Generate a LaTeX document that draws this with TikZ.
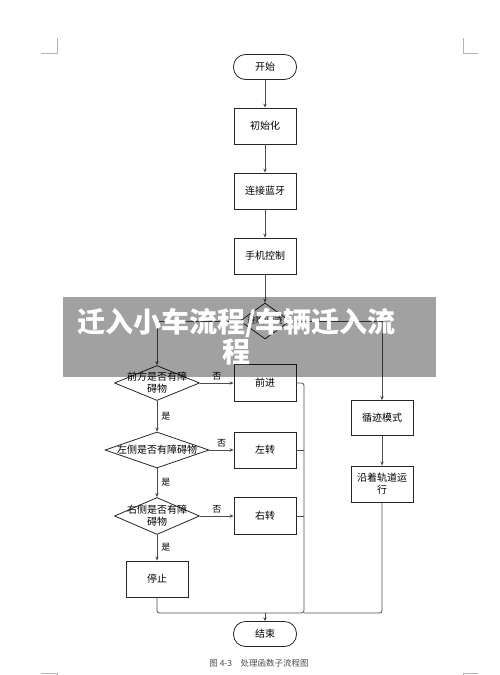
\documentclass[tikz,border=0pt]{standalone}
\usepackage{fontspec}
\setmainfont{Noto Sans CJK SC}
\usetikzlibrary{shapes.geometric,arrows.meta}
\begin{document}
\begin{tikzpicture}[x=1pt,y=-1pt,
  box/.style={draw=black!85, line width=0.8pt, minimum width=62pt, minimum height=36pt, inner sep=1pt, font=\fontsize{10}{12}\selectfont, align=center},
  term/.style={draw=black!85, line width=0.8pt, minimum width=63pt, minimum height=25pt, rounded corners=12pt, font=\fontsize{10}{12}\selectfont},
  dia/.style={draw=black!85, line width=0.8pt, diamond, inner sep=0pt},
  txt/.style={font=\fontsize{10}{12}\selectfont, align=center, inner sep=0pt},
  conn/.style={draw=black!70, line width=0.8pt},
  arr/.style={conn, -{Stealth[length=4pt,width=3.5pt]}},
  lbl/.style={font=\fontsize{9}{10}\selectfont, inner sep=1pt}]
\useasboundingbox (0,0) rectangle (500,675);
% corner marks
\draw[black!30, line width=0.6pt] (41,53) -- (57,53) -- (57,38);
\draw[black!30, line width=0.6pt] (463,38) -- (463,53) -- (478,53);
\draw[black!30, line width=0.6pt] (41,673) -- (57,673) -- (57,675);
\draw[black!30, line width=0.6pt] (463,675) -- (463,673) -- (478,673);
% nodes
\node[term] (start) at (265,67) {开始};
\node[box] (init) at (265,126) {初始化};
\node[box] (bt) at (265,191) {连接蓝牙};
\node[box] (phone) at (265,256) {手机控制};
\node[dia, minimum width=50pt, minimum height=36pt] (mode) at (265,321) {};
\node[txt, font=\fontsize{8}{9}\selectfont] (modet) at (mode) {避障/循迹};
\node[dia, minimum width=85pt, minimum height=35pt] (d1) at (157,383) {};
\node[txt] (d1t) at (d1) {前方是否有障\\碍物};
\node[box, minimum height=37pt] (fwd) at (265,383) {前进};
\node[dia, minimum width=104pt, minimum height=36pt] (d2) at (157,450) {};
\node[txt] (d2t) at (d2) {左侧是否有障碍物};
\node[box] (left) at (265,450) {左转};
\node[dia, minimum width=85pt, minimum height=37pt] (d3) at (157,516) {};
\node[txt] (d3t) at (d3) {右侧是否有障\\碍物};
\node[box, minimum height=37pt] (right) at (265,516) {右转};
\node[box] (stop) at (157,579) {停止};
\node[box, minimum height=35pt] (trk) at (382,418) {循迹模式};
\node[box] (run) at (382,484) {沿着轨道运\\行};
\node[term] (end) at (265,634) {结束};
\node[font=\fontsize{8.5}{10}\selectfont, text=black!70] (cap) at (259,663) {图 4-3\quad 处理函数子流程图};
% connectors
\draw[arr] (start) -- (init);
\draw[arr] (init) -- (bt);
\draw[arr] (bt) -- (phone);
\draw[arr] (phone) -- (mode);
\draw[arr] (mode.west) -| (d1.north);
\draw[arr] (mode.east) -| (trk.north);
\draw[arr] (d1.east) -- node[lbl, above=1pt]{否} (fwd.west);
\draw[arr] (d2.east) -- node[lbl, above=1pt]{否} (left.west);
\draw[arr] (d3.east) -- node[lbl, above=1pt]{否} (right.west);
\draw[arr] (d1.south) -- node[lbl, right=3pt]{是} (d2.north);
\draw[arr] (d2.south) -- node[lbl, right=3pt]{是} (d3.north);
\draw[arr] (d3.south) -- node[lbl, right=3pt]{是} (stop.north);
\draw[arr] (trk) -- (run);
\coordinate (bus) at (304,613);
\coordinate (m) at (265,613);
\draw[conn, rounded corners=2.5pt] (fwd.east) -| (bus) -- (m);
\draw[conn] (left.east) -- (left.east -| bus);
\draw[conn] (right.east) -- (right.east -| bus);
\draw[conn, rounded corners=2.5pt] (stop.south) |- (m);
\draw[conn, rounded corners=2.5pt] (run.south) |- (bus);
\draw[arr] (m) -- (end.north);
% banner
\fill[black, fill opacity=0.37] (63,297) rectangle (436,377);
\node[text=white, font=\fontsize{28}{30}\selectfont\bfseries, text width=345pt, align=center, inner sep=0pt] (banner) at (236.5,337) {迁入小车流程/车辆迁入流\\程};
\end{tikzpicture}
\end{document}
